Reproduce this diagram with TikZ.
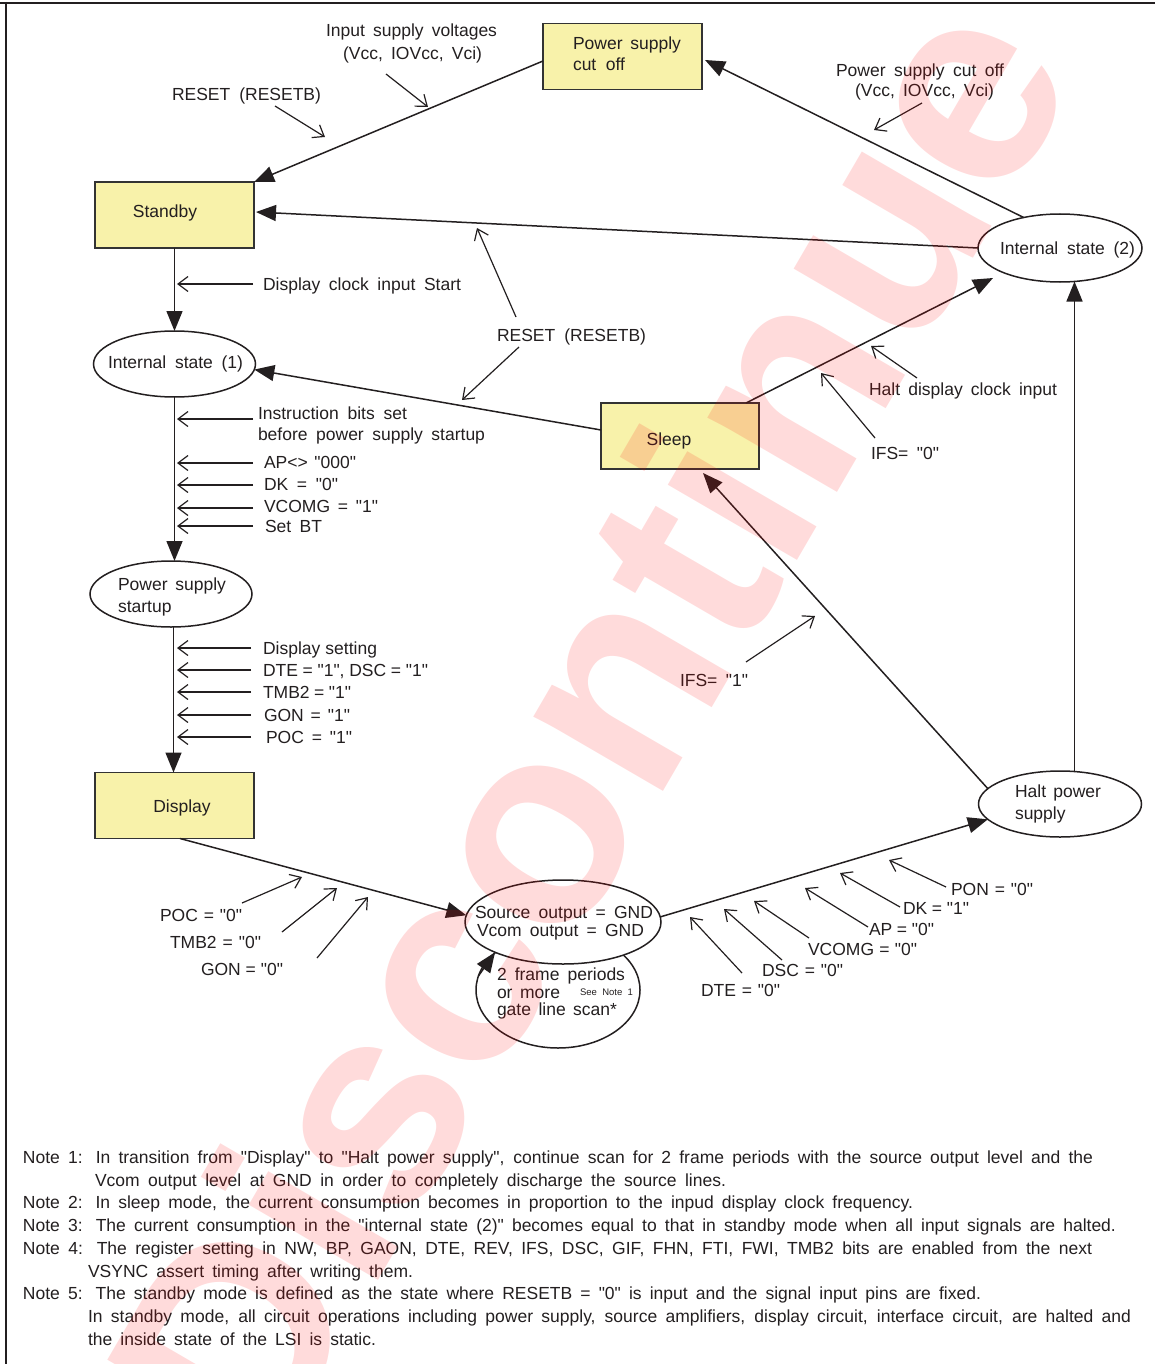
\documentclass[tikz,border=0pt]{standalone}
\usepackage{fontspec}
\setmainfont{Liberation Sans}[Ligatures=TeXOff]
\usetikzlibrary{arrows.meta,calc,shapes.geometric}
\definecolor{ink}{RGB}{35,31,32}
\definecolor{boxfill}{RGB}{248,242,170}
\definecolor{boxline}{RGB}{51,51,51}
% a line of text spread to a given width (word gaps stretched)
\newcommand\sline[2]{\makebox[#1pt][s]{#2}}

\begin{document}
\begin{tikzpicture}[x=1pt,y=-1pt,
  every node/.style={font=\fontsize{17.5}{21}\selectfont, text=ink, inner sep=0pt, outer sep=0pt},
  lbl/.style={anchor=west, text height=12.5pt, text depth=0pt},
  cen/.style={anchor=center, text height=12.5pt, text depth=0pt},
  small/.style={anchor=west, font=\fontsize{9.5}{11}\selectfont, text height=7pt, text depth=0pt},
  state/.style={draw=boxline, fill=boxfill, line width=1.8pt, minimum width=159pt, minimum height=66pt},
  phase/.style={ellipse, draw=ink, line width=1.5pt, fill=white},
  conn/.style={draw=ink, line width=1.5pt, -{Triangle[length=20pt,width=16pt]}},
  hint/.style={draw=ink, line width=1.2pt, -{Straight Barb[length=10pt,width=15pt]}},
]
\useasboundingbox (0,0) rectangle (1155,1364);

% page frame (top and left rules)
\draw[ink, line width=2.4pt] (0,3) -- (1155,3);
\draw[ink, line width=2pt] (6,2) -- (6,1364);

% ---- states drawn as boxes
\node[state] (psco) at (622.5,56.5) {};
\node[state] (stb)  at (174.5,215) {};
\node[state, minimum width=158pt] (slp)  at (680,436) {};
\node[state] (dsp)  at (174.5,805.5) {};

% ---- states drawn as ellipses
\node[phase, minimum width=162pt, minimum height=66pt] (is1) at (174.5,364) {};
\node[phase, minimum width=162pt, minimum height=66pt] (pss) at (171,594) {};
\node[phase, minimum width=164pt, minimum height=68pt] (is2) at (1060,248) {};
\node[phase, minimum width=163pt, minimum height=66pt] (hps) at (1060,804) {};
\node[phase, minimum width=164pt, minimum height=116pt] (loop) at (558,990) {};
\node[phase, minimum width=196pt, minimum height=84pt] (src) at (563,922) {};

% ---- state texts
\node[lbl] at (573,43) {\sline{108}{Power supply}};
\node[lbl] at (573,64) {\sline{52}{cut off}};
\node[cen] at (165,211) {Standby};
\node[cen] at (669,439) {Sleep};
\node[cen] at (182,806) {Display};
\node[lbl] at (108,362) {\sline{135}{Internal state (1)}};
\node[lbl] at (118,584) {\sline{108}{Power supply}};
\node[lbl] at (118,606) {startup};
\node[lbl] at (1000,248) {\sline{135}{Internal state (2)}};
\node[lbl] at (1015,791) {\sline{86}{Halt power}};
\node[lbl] at (1015,813) {supply};
\node[lbl] at (475,912) {\sline{178}{Source output = GND}};
\node[lbl] at (477,930) {\sline{167}{Vcom output = GND}};
\node[lbl] at (497,974) {\sline{128}{2 frame periods}};
\node[lbl] at (497,992) {\sline{63}{or more}};
\node[small] at (580,992) {\sline{53}{See Note 1}};
\node[lbl] at (497,1009) {\sline{120}{gate line scan*}};

% ---- transition labels
\node[lbl] at (326,30) {\sline{171}{Input supply voltages}};
\node[lbl] at (343,53) {\sline{139}{(Vcc, IOVcc, Vci)}};
\node[lbl] at (172,94) {\sline{149}{RESET (RESETB)}};
\node[lbl] at (836,70) {\sline{168}{Power supply cut off}};
\node[lbl] at (855,90) {\sline{139}{(Vcc, IOVcc, Vci)}};
\node[lbl] at (263,284) {\sline{198}{Display clock input Start}};
\node[lbl] at (497,335) {\sline{149}{RESET (RESETB)}};
\node[lbl] at (869,389) {\sline{188}{Halt display clock input}};
\node[lbl] at (258,413) {\sline{149}{Instruction bits set}};
\node[lbl] at (258,434) {\sline{227}{before power supply startup}};
\node[lbl] at (871,453) {\sline{68}{IFS= "0"}};
\node[lbl] at (264,462) {\sline{92}{AP<> "000"}};
\node[lbl] at (264,484) {\sline{74}{DK = "0"}};
\node[lbl] at (264,506) {\sline{114}{VCOMG = "1"}};
\node[lbl] at (265,526) {\sline{57}{Set BT}};
\node[lbl] at (263,648) {\sline{114}{Display setting}};
\node[lbl] at (263,670) {\sline{165}{DTE = "1", DSC = "1"}};
\node[lbl] at (263,692) {\sline{88}{TMB2 = "1"}};
\node[lbl] at (264,715) {\sline{86}{GON = "1"}};
\node[lbl] at (266,737) {\sline{86}{POC = "1"}};
\node[lbl] at (680,680) {\sline{68}{IFS= "1"}};
\node[lbl] at (951,889) {\sline{82}{PON = "0"}};
\node[lbl] at (903,908) {\sline{66}{DK = "1"}};
\node[lbl] at (869,929) {\sline{65}{AP = "0"}};
\node[lbl] at (808,949) {\sline{109}{VCOMG = "0"}};
\node[lbl] at (762,970) {\sline{81}{DSC = "0"}};
\node[lbl] at (701,990) {\sline{79}{DTE = "0"}};
\node[lbl] at (160,915) {\sline{82}{POC = "0"}};
\node[lbl] at (170,942) {\sline{91}{TMB2 = "0"}};
\node[lbl] at (201,969) {\sline{82}{GON = "0"}};

% ---- transitions
\draw[conn] ($(psco.west)+(0,4.5)$) -- (stb.north east);
\draw[conn] (is2.140) -- ($(psco.east)+(3,3.5)$);
\draw[conn] (is2.west) -- ($(stb.east)+(2,-3)$);
\draw[conn] (stb.south) -- (is1.north);
\draw[conn] ($(slp.west)+(0,-6)$) -- (is1.-4);
\draw[conn] ($(slp.north)+(66,0)$) -- ($(is2.center)+(-67,30)$);
\draw[conn] (is1.south) -- (is1.south |- pss.north);
\draw[conn] ($(pss.south)+(2.5,0)$) -- ($(dsp.north)+(-1,0)$);
\draw[conn] ($(dsp.south)+(5.5,0)$) -- (src.176);
\draw[conn] (src.3) -- (hps.192);
\draw[conn] (hps.168) -- ($(slp.south)+(23,4)$);
\draw[conn] ($(hps.north)+(14.5,0.5)$) -- ($(is2.south)+(14.5,-0.5)$);
\draw[conn] (loop.170) -- (src.204);

% ---- condition pointers
\foreach \n/\ax/\ay/\bx/\by in {
  isv/386/74/428/107, rsa/275/106/325/137, pco/922/103/874/130,
  dcs/253/284/177/284, rsu/516/317/477/228, rsd/519/347/462/400,
  ibs/253/419/177/419, apn/253/463/177/463, dkz/253/485/177/485,
  vco/253/508/177/508, sbt/253/526/177/526,
  dst/251/648/177/648, dto/251/670/177/670, tmo/251/692/177/692,
  gno/251/715/177/715, pco1/251/737/177/737,
  pcz/242/903/302/877, tmz/282/932/337/888, gnz/317/958/368/897,
  pnz/946/887/889/860, dko/900/907/840/873, apz/868/927/805/888,
  vcz/809/938/754/901, dsz/782/960/724/909, dtz/742/973/690/917,
  hdc/917/378/871/346, ifz/875/438/821/373, ifo/746/662/815/616}
{
  \coordinate (\n-from) at (\ax,\ay);
  \coordinate (\n-to) at (\bx,\by);
  \draw[hint] (\n-from) -- (\n-to);
}

% ---- notes
\node[lbl] at (23,1157) {\sline{1070}{Note 1: In transition from "Display" to "Halt power supply", continue scan for 2 frame periods with the source output level and the}};
\node[lbl] at (95,1180) {\sline{631}{Vcom output level at GND in order to completely discharge the source lines.}};
\node[lbl] at (23,1202) {\sline{890}{Note 2: In sleep mode, the current consumption becomes in proportion to the inpud display clock frequency.}};
\node[lbl] at (23,1225) {\sline{1093}{Note 3: The current consumption in the "internal state (2)" becomes equal to that in standby mode when all input signals are halted.}};
\node[lbl] at (23,1248) {\sline{1069}{Note 4: The register setting in NW, BP, GAON, DTE, REV, IFS, DSC, GIF, FHN, FTI, FWI, TMB2 bits are enabled from the next}};
\node[lbl] at (88,1271) {\sline{325}{VSYNC assert timing after writing them.}};
\node[lbl] at (23,1293) {\sline{958}{Note 5: The standby mode is defined as the state where RESETB = "0" is input and the signal input pins are fixed.}};
\node[lbl] at (88,1316) {\sline{1043}{In standby mode, all circuit operations including power supply, source amplifiers, display circuit, interface circuit, are halted and}};
\node[lbl] at (88,1339) {\sline{288}{the inside state of the LSI is static.}};

% ---- watermark
\node[rotate=59.8, anchor=base west, font=\fontsize{283}{283}\selectfont\bfseries,
      text=red, text opacity=0.14] (wm) at (266,1474) {Discontinue};
\end{tikzpicture}
\end{document}
